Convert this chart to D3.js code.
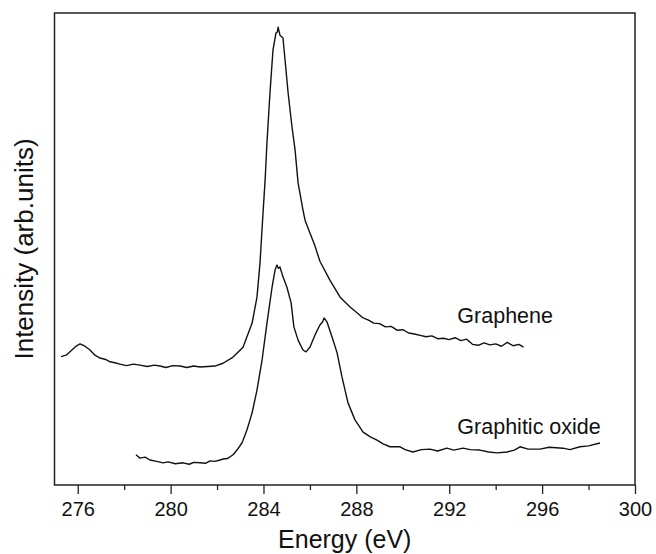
<!DOCTYPE html>
<html>
<head>
<meta charset="utf-8">
<script src="https://cdn.jsdelivr.net/npm/d3@7"></script>
<style>
  body { margin: 0; background: #fff; }
  svg { display: block; font-family: "Liberation Sans", Arial, sans-serif; }
</style>
</head>
<body>
<div id="chart"></div>
<script>
// Energy (eV) readings, intensity in arbitrary units
const grapheneEnergy = [275.28, 275.50, 275.75, 275.95, 276.10, 276.31, 276.53, 276.74, 276.96, 277.20, 277.39, 277.60, 277.82,
  278.10, 278.40, 278.68, 279.00, 279.30, 279.54, 279.80, 280.10, 280.40, 280.70, 281.00, 281.27, 281.60, 281.91, 282.26,
  282.69, 283.12, 283.51, 283.72, 283.85, 283.98, 284.07, 284.15, 284.28, 284.41, 284.54, 284.60, 284.63, 284.71, 284.84,
  284.93, 285.06, 285.23, 285.36, 285.49, 285.70, 285.79, 286.00, 286.20, 286.43, 286.86, 287.30, 287.73, 288.00, 288.29,
  288.50, 288.75, 289.00, 289.25, 289.50, 289.75, 290.00, 290.25, 290.50, 290.75, 291.00, 291.25, 291.50, 291.75, 292.00,
  292.25, 292.50, 292.75, 293.00, 293.25, 293.50, 293.75, 294.00, 294.25, 294.50, 294.75, 295.00, 295.20];
const grapheneIntensity = [27.2, 27.5, 28.6, 29.5, 29.9, 29.4, 28.6, 27.5, 26.9, 26.6, 26.1, 25.9, 25.6,
  25.3, 25.6, 25.4, 25.1, 25.4, 25.2, 24.9, 25.3, 25.2, 24.9, 25.2, 25.0, 25.1, 25.2, 25.8,
  27.1, 29.2, 34.3, 39.8, 47.0, 57.6, 64.6, 72.5, 83.1, 92.2, 95.8, 96.0, 97.0, 95.3, 94.7,
  90.0, 83.1, 75.8, 71.0, 64.0, 58.3, 56.1, 53.4, 50.9, 47.4, 43.4, 39.8, 37.7, 36.6, 35.4,
  35.0, 34.3, 34.2, 33.5, 33.6, 32.8, 32.9, 32.2, 32.0, 31.7, 31.4, 31.6, 31.0, 31.1, 30.8,
  31.2, 30.6, 30.9, 29.8, 29.6, 30.1, 29.7, 29.9, 29.4, 30.2, 29.5, 29.8, 29.2];

const oxideEnergy = [278.51, 278.68, 278.90, 279.11, 279.40, 279.67, 279.90, 280.20, 280.53, 280.80, 281.00, 281.27, 281.50,
  281.70, 281.90, 282.13, 282.26, 282.45, 282.69, 282.86, 283.07, 283.12, 283.29, 283.42, 283.51, 283.72, 283.94, 284.15,
  284.37, 284.50, 284.58, 284.64, 284.71, 284.84, 285.01, 285.19, 285.31, 285.49, 285.70, 285.83, 286.00, 286.22, 286.43,
  286.55, 286.61, 286.74, 286.95, 287.17, 287.38, 287.64, 287.94, 288.29, 288.60, 288.89, 289.15, 289.45, 289.88, 290.10,
  290.44, 290.80, 291.17, 291.50, 291.90, 292.20, 292.59, 292.90, 293.32, 293.70, 294.06, 294.49, 294.80, 295.05, 295.40,
  295.91, 296.30, 296.90, 297.20, 297.63, 298.00, 298.49];
const oxideIntensity = [6.4, 5.7, 5.9, 5.3, 5.0, 4.7, 4.9, 4.5, 4.7, 4.4, 4.8, 4.7, 4.6,
  5.1, 5.0, 5.3, 5.5, 5.6, 6.4, 7.4, 8.9, 9.5, 11.7, 13.8, 15.3, 20.1, 26.5, 34.3,
  41.9, 45.6, 46.6, 45.9, 46.2, 44.1, 41.9, 38.6, 33.5, 30.7, 28.6, 28.2, 29.2, 31.8, 33.9,
  34.6, 35.4, 34.5, 31.4, 28.0, 22.9, 17.4, 13.8, 11.2, 10.2, 9.5, 8.7, 8.1, 8.1, 7.5,
  7.0, 7.5, 7.6, 7.2, 7.8, 7.4, 7.8, 7.5, 7.4, 7.0, 6.8, 7.0, 7.4, 8.1, 7.6,
  7.6, 8.0, 7.8, 7.5, 8.1, 8.3, 8.9];

const majorTicks = [276, 280, 284, 288, 292, 296, 300];
const minorTicks = [278, 282, 286, 290, 294, 298];

const seriesLabels = [
  { name: "Graphene", x: 292.35, y: 34.3 },
  { name: "Graphitic oxide", x: 292.35, y: 10.8 }
];

const width = 656, height = 554;
const margin = { top: 13, right: 21, bottom: 69, left: 54.5 };

const svg = d3.select("#chart").append("svg")
  .attr("width", width)
  .attr("height", height);

const x = d3.scaleLinear().domain([275, 300]).range([margin.left, width - margin.right]);
const y = d3.scaleLinear().domain([0, 100]).range([height - margin.bottom, margin.top]);

// frame
svg.append("rect")
  .attr("x", x(275)).attr("y", y(100))
  .attr("width", x(300) - x(275)).attr("height", y(0) - y(100))
  .attr("fill", "none").attr("stroke", "#222").attr("stroke-width", 1.5);

// x axis, major and minor ticks
const xAxis = svg.append("g")
  .attr("transform", `translate(0,${y(0)})`)
  .call(d3.axisBottom(x).tickValues(majorTicks).tickSize(9).tickPadding(8).tickFormat(d3.format("d")));
xAxis.select(".domain").remove();
xAxis.selectAll(".tick line").attr("stroke", "#222").attr("stroke-width", 1.3);
xAxis.selectAll(".tick text").attr("font-size", 20).attr("fill", "#111")
  .attr("font-family", "Liberation Sans, Arial, sans-serif");

const xMinor = svg.append("g")
  .attr("transform", `translate(0,${y(0)})`)
  .call(d3.axisBottom(x).tickValues(minorTicks).tickSize(5).tickFormat(""));
xMinor.select(".domain").remove();
xMinor.selectAll(".tick line").attr("stroke", "#222").attr("stroke-width", 1.3);

// axis titles
svg.append("text")
  .attr("x", (x(275) + x(300)) / 2).attr("y", 548)
  .attr("text-anchor", "middle").attr("font-size", 25).attr("fill", "#111")
  .text("Energy (eV)");

svg.append("text")
  .attr("transform", `translate(33,${(y(0) + y(100)) / 2}) rotate(-90)`)
  .attr("text-anchor", "middle").attr("font-size", 26).attr("fill", "#111")
  .text("Intensity (arb.units)");

// spectra
const line = d3.line().x(d => x(d[0])).y(d => y(d[1]));
const graphene = d3.zip(grapheneEnergy, grapheneIntensity);
const oxide = d3.zip(oxideEnergy, oxideIntensity);

[graphene, oxide].forEach(s => {
  svg.append("path")
    .datum(s)
    .attr("d", line)
    .attr("fill", "none")
    .attr("stroke", "#111")
    .attr("stroke-width", 1.4)
    .attr("stroke-linejoin", "round");
});

// series labels
svg.selectAll(".series-label")
  .data(seriesLabels)
  .enter()
  .append("text")
  .attr("class", "series-label")
  .attr("x", d => x(d.x)).attr("y", d => y(d.y))
  .attr("font-size", 21.5).attr("fill", "#111")
  .text(d => d.name);
</script>
</body>
</html>
